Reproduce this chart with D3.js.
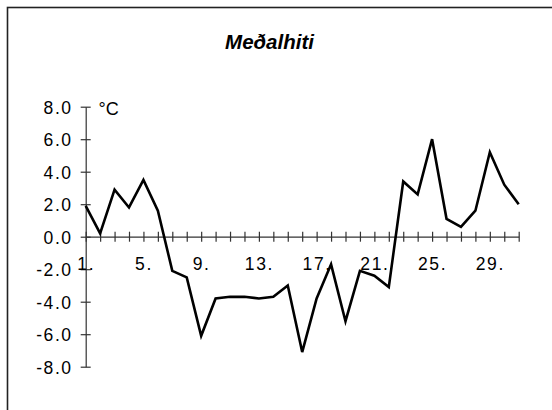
<!DOCTYPE html>
<html>
<head>
<meta charset="utf-8">
<script src="https://cdn.jsdelivr.net/npm/d3@7"></script>
<style>
  html, body { margin: 0; padding: 0; background: #fff; }
  svg { display: block; }
  text { font-family: Arial, "Liberation Sans", sans-serif; fill: #000; }
</style>
</head>
<body>
<script>
const title = "Meðalhiti";
const unitLabel = "°C";
const days = d3.range(1, 32);
const temps = [1.9, 0.2, 2.9, 1.8, 3.5, 1.6, -2.1, -2.5, -6.1, -3.8,
               -3.7, -3.7, -3.8, -3.7, -3.0, -7.1, -3.8, -1.7, -5.2, -2.1,
               -2.4, -3.1, 3.4, 2.6, 6.0, 1.1, 0.6, 1.6, 5.2, 3.2, 2.0];
const yTicks = [-8, -6, -4, -2, 0, 2, 4, 6, 8];
const xLabelDays = [1, 5, 9, 13, 17, 21, 25, 29];

const W = 552, H = 410;
const svg = d3.select("body").append("svg").attr("width", W).attr("height", H);

// outer frame (extends beyond right and bottom edges)
svg.append("rect")
  .attr("x", 7.5).attr("y", 7.5)
  .attr("width", W + 20).attr("height", H + 20)
  .attr("fill", "none").attr("stroke", "#222").attr("stroke-width", 1.6);

const x = d3.scaleLinear().domain([1, 31]).range([85.7, 518.7]);
const y = d3.scaleLinear().domain([-8, 8]).range([366.7, 106.7]);

// title
svg.append("text")
  .attr("x", 269.5).attr("y", 48.5)
  .attr("text-anchor", "middle")
  .style("font-size", "20.5px").style("font-weight", "bold").style("font-style", "italic")
  .text(title);

const fmt = d => d3.format(".1f")(d).replace("\u2212", "-");

// y axis
const yAxis = d3.axisLeft(y).tickValues(yTicks).tickSizeInner(0).tickSizeOuter(0)
  .tickFormat(fmt).tickPadding(13);
const gy = svg.append("g").attr("transform", `translate(${x(1)},0)`).call(yAxis);
gy.select(".domain").attr("stroke", "#333").attr("stroke-width", 1.2);
gy.selectAll(".tick line").remove();
gy.selectAll(".tick").append("line")
  .attr("x1", -5).attr("x2", 5).attr("stroke", "#333").attr("stroke-width", 1.2);
gy.selectAll(".tick text")
  .style("font-size", "17.5px").style("font-family", "Arial, 'Liberation Sans', sans-serif")
  .attr("fill", "#000").attr("dy", "0.36em").style("letter-spacing", "1.6px");
gy.attr("font-family", null).attr("font-size", null);

// x axis at y = 0
const xAxis = d3.axisBottom(x).tickValues(days).tickSizeInner(0).tickSizeOuter(0)
  .tickFormat(d => xLabelDays.includes(d) ? d + "." : "");
const gx = svg.append("g").attr("transform", `translate(0,${y(0)})`).call(xAxis);
gx.select(".domain").attr("stroke", "#333").attr("stroke-width", 1.2);
gx.selectAll(".tick line").remove();
gx.selectAll(".tick").append("line")
  .attr("y1", -5).attr("y2", 5).attr("stroke", "#333").attr("stroke-width", 1.2);
gx.selectAll(".tick text")
  .attr("y", 33.5).attr("dy", null)
  .style("font-size", "17.5px").style("font-family", "Arial, 'Liberation Sans', sans-serif")
  .attr("fill", "#000").style("letter-spacing", "1.6px");
gx.attr("font-family", null).attr("font-size", null);

// unit label
svg.append("text")
  .attr("x", 98.5).attr("y", 114.5)
  .style("font-size", "18px")
  .text(unitLabel);

// line
const line = d3.line().x((d, i) => x(days[i])).y(d => y(d));
svg.append("path")
  .datum(temps)
  .attr("d", line)
  .attr("fill", "none")
  .attr("stroke", "#000")
  .attr("stroke-width", 2.6)
  .attr("stroke-linejoin", "miter");
</script>
</body>
</html>
